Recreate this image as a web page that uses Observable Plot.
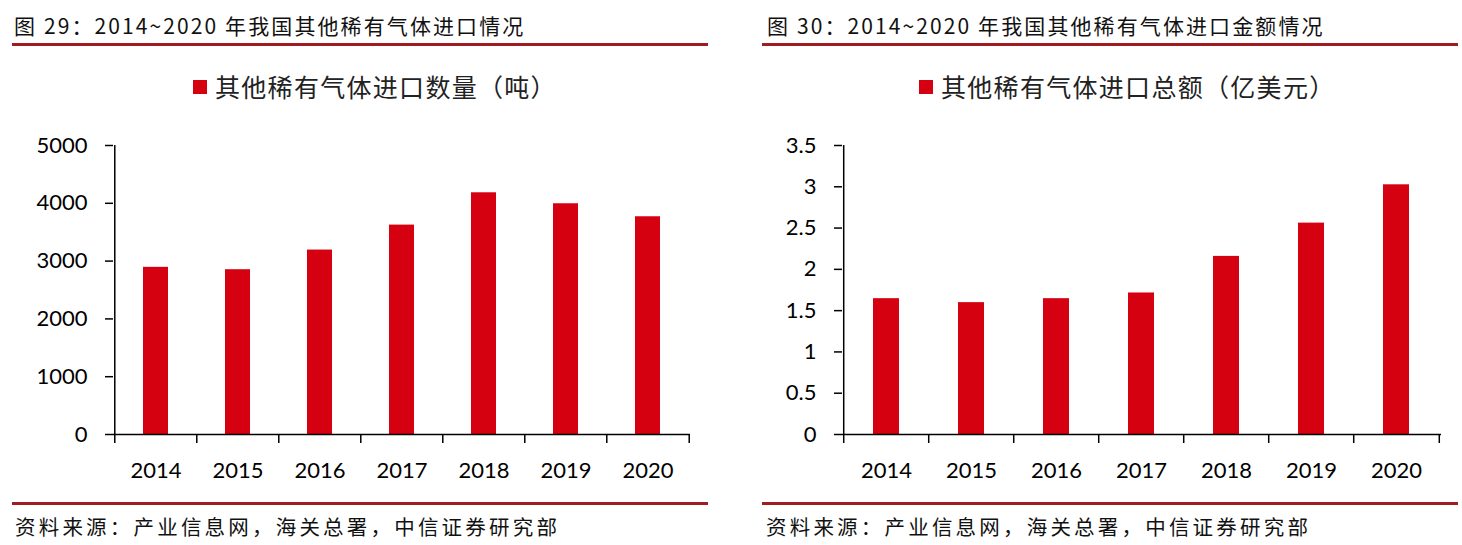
<!DOCTYPE html>
<html>
<head>
<meta charset="utf-8">
<script src="https://cdn.jsdelivr.net/npm/d3@7"></script>
<script src="https://cdn.jsdelivr.net/npm/@observablehq/plot@0.6"></script>
<style>
  html, body { margin: 0; padding: 0; background: #fff; }
  body { width: 1462px; height: 545px; position: relative; overflow: hidden; font-family: "Noto Sans CJK SC", "Noto Sans", sans-serif; }
  .abs { position: absolute; white-space: nowrap; }
  .title { font-family: "Noto Sans CJK SC", sans-serif; font-size: 21px; color: #111; letter-spacing: 2.1px; line-height: 1; }
  .rule { position: absolute; height: 2.5px; background: #a01c22; }
  .legend { font-size: 25px; color: #222; line-height: 1; display: flex; align-items: center; letter-spacing: 1.3px; }
  .legend .sw { display: inline-block; width: 14px; height: 14px; background: #d50010; margin-right: 8px; }
  .foot { font-size: 20.5px; color: #111; letter-spacing: 3.2px; line-height: 1; }
</style>
</head>
<body>
<script>
// ---- data ----
const years = ["2014", "2015", "2016", "2017", "2018", "2019", "2020"];
const volumeTons = [2892, 2851, 3191, 3623, 4182, 3992, 3767];
const valueUsd100m = [1.645, 1.597, 1.645, 1.714, 2.157, 2.56, 3.024];
const volumeTicks = [0, 1000, 2000, 3000, 4000, 5000];
const valueTicks = [0, 0.5, 1, 1.5, 2, 2.5, 3, 3.5];

const titleLeft = "图 29：2014~2020 年我国其他稀有气体进口情况";
const titleRight = "图 30：2014~2020 年我国其他稀有气体进口金额情况";
const legendLeft = "其他稀有气体进口数量（吨）";
const legendRight = "其他稀有气体进口总额（亿美元）";
const source = "资料来源：产业信息网，海关总署，中信证券研究部";

const BAR = "#d50010";

function addEl(cls, text, css) {
  const el = document.createElement("div");
  el.className = cls;
  if (text != null) el.textContent = text;
  Object.assign(el.style, css);
  document.body.appendChild(el);
  return el;
}

function legend(text, left, top) {
  const el = addEl("abs legend", null, {left: left + "px", top: top + "px"});
  const sw = document.createElement("span"); sw.className = "sw";
  const t = document.createElement("span"); t.textContent = text;
  el.appendChild(sw); el.appendChild(t);
}

function chart(values, ticks, left, ml, mr) {
  const width = 731, height = 380, mt = 25, mb = 66;
  const step = (width - ml - mr) / years.length;
  const data = years.map((y, i) => ({year: y, v: values[i]}));
  const top = ticks[ticks.length - 1];
  const svg = Plot.plot({
    width, height,
    marginLeft: ml, marginRight: mr, marginTop: mt, marginBottom: mb,
    style: {fontFamily: "Lato, 'Open Sans', sans-serif", fontSize: "22px", color: "#000", background: "transparent"},
    x: {type: "band", domain: years, paddingInner: 0.69, paddingOuter: 0.345, align: 0.5},
    y: {domain: [0, top]},
    marks: [
      Plot.barY(data, {x: "year", y: "v", fill: BAR}),
      Plot.axisY({ticks, label: null, tickSize: 8, tickPadding: 18, tickFormat: d => String(d), stroke: "#000", strokeWidth: 1.5, fill: "#000"}),
      Plot.ruleX([years[0]], {x: d => d, dx: -step / 2, y1: () => 0, y2: () => top, stroke: "#000", strokeWidth: 1.5}),
      Plot.ruleY([0], {stroke: "#000", strokeWidth: 1.5}),
      Plot.ruleX(years, {x: d => d, dx: -step / 2, y1: () => 0, y2: () => 0, insetBottom: -9, stroke: "#000", strokeWidth: 1.5}),
      Plot.ruleX([years[years.length - 1]], {x: d => d, dx: step / 2, y1: () => 0, y2: () => 0, insetBottom: -9, stroke: "#000", strokeWidth: 1.5}),
      Plot.axisX({label: null, tickSize: 0, tickPadding: 28, fill: "#000"})
    ]
  });
  svg.style.left = left + "px";
  svg.style.top = "120px";
  svg.style.position = "absolute";
  document.body.appendChild(svg);
}

// headers
addEl("abs title", titleLeft, {left: "14px", top: "15px"});
addEl("abs title", titleRight, {left: "767px", top: "15px"});
addEl("rule", null, {left: "12px", top: "43px", width: "696px"});
addEl("rule", null, {left: "762px", top: "43px", width: "696px"});

legend(legendLeft, 193, 74);
legend(legendRight, 919, 74);

chart(volumeTons, volumeTicks, 0, 113, 41);
chart(valueUsd100m, valueTicks, 731, 111, 21);

// footers
addEl("rule", null, {left: "12px", top: "502px", width: "696px"});
addEl("rule", null, {left: "762px", top: "502px", width: "696px"});
addEl("abs foot", source, {left: "15px", top: "516px"});
addEl("abs foot", source, {left: "766px", top: "516px"});
</script>
</body>
</html>
